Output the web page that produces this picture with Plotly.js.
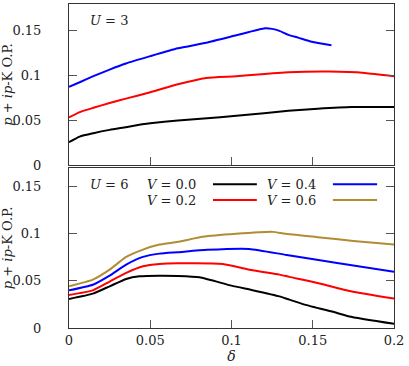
<!DOCTYPE html>
<html>
<head>
<meta charset="utf-8">
<script src="https://cdn.plot.ly/plotly-3.0.1.min.js"></script>
<style>
  html, body { margin: 0; padding: 0; background: #fff; }
  #chart { width: 409px; height: 366px; }
</style>
</head>
<body>
<div id="chart"></div>
<script>
// U = 3 panel
const u3V0x = [0, 0.0066, 0.015, 0.025, 0.035, 0.045, 0.05, 0.067, 0.083, 0.103, 0.12, 0.135, 0.153, 0.174, 0.2];
const u3V0y = [0.0255, 0.0318, 0.0356, 0.0393, 0.0423, 0.0455, 0.0468, 0.0498, 0.052, 0.0551, 0.058, 0.0607, 0.0629, 0.0648, 0.0648];

const u3V2x = [0, 0.0066, 0.015, 0.025, 0.035, 0.05, 0.067, 0.0845, 0.103, 0.135, 0.16, 0.182, 0.2];
const u3V2y = [0.0532, 0.0592, 0.064, 0.0693, 0.0742, 0.0813, 0.0903, 0.0974, 0.0993, 0.1037, 0.1045, 0.103, 0.0993];

const u3V4x = [0, 0.0066, 0.015, 0.025, 0.035, 0.05, 0.067, 0.0845, 0.103, 0.1206, 0.125, 0.1295, 0.135, 0.141, 0.1494, 0.1615];
const u3V4y = [0.0873, 0.0925, 0.0993, 0.1067, 0.1135, 0.1217, 0.1305, 0.1367, 0.145, 0.1528, 0.1522, 0.15, 0.1455, 0.1424, 0.1378, 0.134];

// U = 6 panel
const u6V0x = [0, 0.0147, 0.025, 0.0352, 0.0434, 0.0557, 0.067, 0.0803, 0.1, 0.113, 0.1295, 0.1356, 0.145, 0.165, 0.1725, 0.2];
const u6V0y = [0.0309, 0.0365, 0.0443, 0.0521, 0.0549, 0.0556, 0.0553, 0.0539, 0.045, 0.0402, 0.0336, 0.0301, 0.0248, 0.016, 0.0123, 0.0045];

const u6V2x = [0, 0.0147, 0.025, 0.0352, 0.0455, 0.0557, 0.067, 0.0946, 0.113, 0.1295, 0.1356, 0.153, 0.1735, 0.2];
const u6V2y = [0.0351, 0.04, 0.0493, 0.0585, 0.0655, 0.068, 0.0687, 0.068, 0.0613, 0.0567, 0.0543, 0.0479, 0.039, 0.0312];

const u6V4x = [0, 0.0147, 0.025, 0.0352, 0.0455, 0.0557, 0.067, 0.085, 0.111, 0.134, 0.165, 0.2];
const u6V4y = [0.04, 0.046, 0.0556, 0.0673, 0.0755, 0.079, 0.0805, 0.083, 0.084, 0.0775, 0.0691, 0.0596];

const u6V6x = [0, 0.0147, 0.025, 0.0352, 0.0455, 0.0557, 0.067, 0.0823, 0.1028, 0.1253, 0.133, 0.153, 0.175, 0.2];
const u6V6y = [0.0443, 0.0514, 0.062, 0.0755, 0.0833, 0.0886, 0.0915, 0.0968, 0.1, 0.1021, 0.1, 0.0965, 0.0925, 0.0886];

const vLabels = ['<i>V</i> = 0.0', '<i>V</i> = 0.2', '<i>V</i> = 0.4', '<i>V</i> = 0.6'];
const colors = ['#000000', '#ff0000', '#0000ff', '#b08d35'];

const xTicks = [0, 0.05, 0.1, 0.15, 0.2];
const xTickText = ['0', '0.05', '0.1', '0.15', '0.2'];
const yTicks = [0, 0.05, 0.1, 0.15];
const yTickText = ['0', '0.05', '0.1', '0.15'];

const FONT = 'DejaVu Serif, serif';

function line(x, y, c, xa, ya) {
  return { x: x, y: y, xaxis: xa, yaxis: ya, type: 'scatter', mode: 'lines',
    line: { color: colors[c], width: 2, shape: 'spline', smoothing: 0.5 }, showlegend: false, hoverinfo: 'skip' };
}

const traces = [
  line(u3V0x, u3V0y, 0, 'x', 'y'),
  line(u3V2x, u3V2y, 1, 'x', 'y'),
  line(u3V4x, u3V4y, 2, 'x', 'y'),
  line(u6V0x, u6V0y, 0, 'x2', 'y2'),
  line(u6V2x, u6V2y, 1, 'x2', 'y2'),
  line(u6V4x, u6V4y, 2, 'x2', 'y2'),
  line(u6V6x, u6V6y, 3, 'x2', 'y2')
];

const axBase = {
  showline: true, linecolor: '#333', linewidth: 1, mirror: true,
  ticks: 'inside', ticklen: 8, tickcolor: '#555', tickwidth: 1,
  showgrid: false, zeroline: false,
  tickfont: { family: FONT, size: 13, color: '#222' }
};

const yTitle = { text: '<i>p</i> + <i>ip</i>-K O.P.', font: { family: FONT, size: 13, color: '#222' }, standoff: 2 };

// custom legend: text followed by line sample
const annotations = [
  { text: '<i>U</i> = 3', xref: 'paper', yref: 'paper', x: 0.058, y: 0.948, xanchor: 'left', yanchor: 'middle', showarrow: false, font: { family: FONT, size: 13, color: '#222' } },
  { text: '<i>U</i> = 6', xref: 'paper', yref: 'paper', x: 0.058, y: 0.444, xanchor: 'left', yanchor: 'middle', showarrow: false, font: { family: FONT, size: 13, color: '#222' } }
];
const shapes = [];
const legX = [[0.397, 0.443, 0.578], [0.766, 0.812, 0.948]];
const legY = [0.444, 0.395];
const legOrder = [[0, 2], [1, 3]];
for (let r = 0; r < 2; r++) {
  for (let c = 0; c < 2; c++) {
    const k = legOrder[r][c];
    annotations.push({ text: vLabels[k], xref: 'paper', yref: 'paper', x: legX[c][0], y: legY[r],
      xanchor: 'right', yanchor: 'middle', showarrow: false, font: { family: FONT, size: 13, color: '#222' } });
    shapes.push({ type: 'line', xref: 'paper', yref: 'paper', x0: legX[c][1], x1: legX[c][2], y0: legY[r], y1: legY[r],
      line: { color: colors[k], width: 2 } });
  }
}

const layout = {
  width: 409, height: 366,
  margin: { l: 69, r: 15, t: 4, b: 38 },
  paper_bgcolor: '#fff', plot_bgcolor: '#fff',
  xaxis: Object.assign({}, axBase, { domain: [0, 1], anchor: 'y', range: [0, 0.2], tickvals: xTicks, ticktext: xTickText, showticklabels: false }),
  yaxis: Object.assign({}, axBase, { domain: [0.503, 1], anchor: 'x', range: [0, 0.18], tickvals: yTicks, ticktext: yTickText, mirror: 'ticks', ticklabelstandoff: 24, title: yTitle }),
  xaxis2: Object.assign({}, axBase, { domain: [0, 1], anchor: 'y2', range: [0, 0.2], tickvals: xTicks, ticktext: xTickText,
    title: { text: '<i>δ</i>', font: { family: FONT, size: 14, color: '#222' }, standoff: 0 } }),
  yaxis2: Object.assign({}, axBase, { domain: [0, 0.494], anchor: 'x2', range: [0, 0.17], tickvals: yTicks, ticktext: yTickText, mirror: 'ticks', ticklabelstandoff: 24, title: yTitle }),
  annotations: annotations,
  shapes: shapes
};

Plotly.newPlot('chart', traces, layout, { displayModeBar: false, staticPlot: true });
</script>
</body>
</html>
